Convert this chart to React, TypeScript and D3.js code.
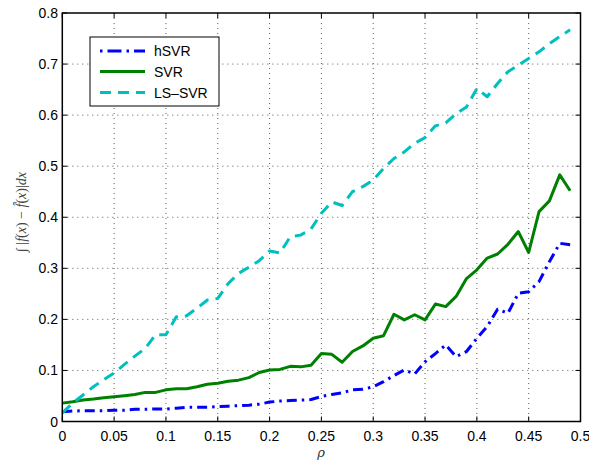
import React from "react";
import * as d3 from "d3";

const rho: number[] = d3.range(50).map((i) => +(i * 0.01).toFixed(2));

const hSVR: number[] = [
  0.019, 0.0205, 0.021, 0.021, 0.021, 0.022, 0.022, 0.024, 0.024, 0.0245,
  0.0245, 0.026, 0.0277, 0.028, 0.028, 0.029, 0.030, 0.031, 0.032, 0.034,
  0.038, 0.040, 0.041, 0.042, 0.043, 0.049, 0.053, 0.056, 0.062, 0.063,
  0.068, 0.078, 0.090, 0.101, 0.093, 0.117, 0.133, 0.150, 0.127, 0.137,
  0.163, 0.186, 0.220, 0.212, 0.251, 0.254, 0.274, 0.313, 0.349, 0.346,
];

const SVR: number[] = [
  0.036, 0.0385, 0.042, 0.044, 0.0467, 0.0486, 0.0506, 0.053, 0.057, 0.057,
  0.062, 0.064, 0.064, 0.068, 0.073, 0.075, 0.079, 0.081, 0.086, 0.096,
  0.101, 0.102, 0.108, 0.107, 0.11, 0.133, 0.1315, 0.116, 0.137, 0.148,
  0.163, 0.168, 0.21, 0.199, 0.209, 0.199, 0.23, 0.225, 0.245, 0.28,
  0.297, 0.32, 0.328, 0.347, 0.372, 0.331, 0.411, 0.432, 0.483, 0.452,
];

const LSSVR: number[] = [
  0.017, 0.036, 0.052, 0.068, 0.082, 0.095, 0.112, 0.128, 0.143, 0.17,
  0.17, 0.205, 0.207, 0.222, 0.238, 0.241, 0.27, 0.29, 0.302, 0.315,
  0.334, 0.33, 0.362, 0.365, 0.377, 0.408, 0.43, 0.423, 0.45, 0.46,
  0.473, 0.496, 0.515, 0.528, 0.545, 0.556, 0.579, 0.585, 0.603, 0.616,
  0.652, 0.636, 0.662, 0.685, 0.698, 0.711, 0.724, 0.74, 0.754, 0.767,
];

const xTicks: number[] = [0, 0.05, 0.1, 0.15, 0.2, 0.25, 0.3, 0.35, 0.4, 0.45, 0.5];
const xTickLabels: string[] = ["0", "0.05", "0.1", "0.15", "0.2", "0.25", "0.3", "0.35", "0.4", "0.45", "0.5"];
const yTicks: number[] = [0, 0.1, 0.2, 0.3, 0.4, 0.5, 0.6, 0.7, 0.8];
const yTickLabels: string[] = ["0", "0.1", "0.2", "0.3", "0.4", "0.5", "0.6", "0.7", "0.8"];

const seriesNames: string[] = ["hSVR", "SVR", "LS\u2013SVR"];

const W = 589;
const H = 462;
const left = 62.3;
const right = 580.5;
const top = 13;
const bottom = 421.5;

const FONT = "'Liberation Sans', Arial, Helvetica, sans-serif";

export default function App() {
  const x = d3.scaleLinear().domain([0, 0.5]).range([left, right]);
  const y = d3.scaleLinear().domain([0, 0.8]).range([bottom, top]);

  const line = d3
    .line<[number, number]>()
    .x((d) => x(d[0]))
    .y((d) => y(d[1]));

  const styles = [
    { color: "#0000ff", width: 3, dash: "10,5,2.5,5" },
    { color: "#008000", width: 3, dash: "" },
    { color: "#00bfbf", width: 3, dash: "11,7" },
  ];
  const data = [hSVR, SVR, LSSVR];

  const tickLen = 5;

  return (
    <svg
      width={W}
      height={H}
      style={{ position: "absolute", left: 0, top: 0, background: "#fff" }}
      xmlns="http://www.w3.org/2000/svg"
    >
      <rect x={0} y={0} width={W} height={H} fill="#fff" />
      {/* grid */}
      <g stroke="#333" strokeWidth={0.8} strokeDasharray="1,4">
        {xTicks.slice(1, -1).map((t) => (
          <line key={"gx" + t} x1={x(t)} x2={x(t)} y1={top} y2={bottom} />
        ))}
        {yTicks.slice(1, -1).map((t) => (
          <line key={"gy" + t} x1={left} x2={right} y1={y(t)} y2={y(t)} />
        ))}
      </g>
      {/* series */}
      {data.map((vals, i) => (
        <path
          key={"s" + i}
          d={line(rho.map((r, j) => [r, vals[j]] as [number, number])) || ""}
          fill="none"
          stroke={styles[i].color}
          strokeWidth={styles[i].width}
          strokeDasharray={styles[i].dash || undefined}
          strokeLinejoin="round"
        />
      ))}
      {/* frame */}
      <rect
        x={left}
        y={top}
        width={right - left}
        height={bottom - top}
        fill="none"
        stroke="#000"
        strokeWidth={1.5}
      />
      {/* ticks */}
      <g stroke="#000" strokeWidth={1}>
        {xTicks.map((t) => (
          <g key={"tx" + t}>
            <line x1={x(t)} x2={x(t)} y1={bottom} y2={bottom - tickLen} />
            <line x1={x(t)} x2={x(t)} y1={top} y2={top + tickLen} />
          </g>
        ))}
        {yTicks.map((t) => (
          <g key={"ty" + t}>
            <line x1={left} x2={left + tickLen} y1={y(t)} y2={y(t)} />
            <line x1={right} x2={right - tickLen} y1={y(t)} y2={y(t)} />
          </g>
        ))}
      </g>
      {/* tick labels */}
      <g fontFamily={FONT} fontSize={14} fill="#000">
        {xTicks.map((t, i) => (
          <text key={"lx" + t} x={x(t)} y={440.5} textAnchor="middle">
            {xTickLabels[i]}
          </text>
        ))}
        {yTicks.map((t, i) => (
          <text key={"ly" + t} x={58} y={y(t) + 5} textAnchor="end">
            {yTickLabels[i]}
          </text>
        ))}
      </g>
      {/* axis labels */}
      <text
        x={321}
        y={456.5}
        textAnchor="middle"
        fontFamily="'DejaVu Serif', 'Liberation Serif', serif"
        fontStyle="italic"
        fontSize={13}
        fill="#333"
      >
        ρ
      </text>
      <text
        transform="translate(26,212) rotate(-90)"
        textAnchor="middle"
        fontFamily="'Liberation Serif', 'DejaVu Serif', serif"
        fontSize={14}
        fill="#444"
      >
        <tspan>∫ |</tspan>
        <tspan fontStyle="italic">f</tspan>
        <tspan>(</tspan>
        <tspan fontStyle="italic">x</tspan>
        <tspan>) − </tspan>
        <tspan fontStyle="italic">{"f\u0302"}</tspan>
        <tspan>(</tspan>
        <tspan fontStyle="italic">x</tspan>
        <tspan>)|</tspan>
        <tspan fontStyle="italic">dx</tspan>
      </text>
      {/* legend */}
      <g>
        <rect x={90} y={37} width={129} height={69} fill="#fff" stroke="#000" strokeWidth={1} />
        {seriesNames.map((name, i) => {
          const ly = [51, 71.5, 92.5][i];
          return (
            <g key={"lg" + i}>
              <line
                x1={100}
                x2={145}
                y1={ly}
                y2={ly}
                stroke={styles[i].color}
                strokeWidth={styles[i].width}
                strokeDasharray={i === 0 ? "2.5,5,14,5" : styles[i].dash || undefined}
              />
              <text x={154} y={ly + 5} fontFamily={FONT} fontSize={14} fill="#000">
                {name}
              </text>
            </g>
          );
        })}
      </g>
    </svg>
  );
}
